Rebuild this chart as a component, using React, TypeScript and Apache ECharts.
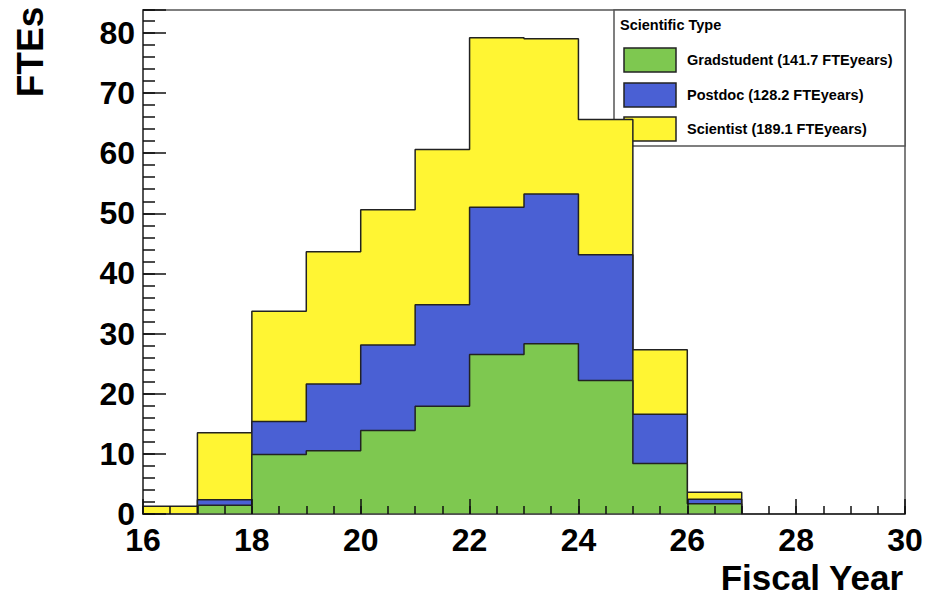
import React, { useEffect, useRef } from "react";
import * as echarts from "echarts";

// Histogram bins (fiscal year, width 1)
const binStarts = [16, 17, 18, 19, 20, 21, 22, 23, 24, 25, 26, 27, 28, 29];
const binEnd = 30;
const gradstudent = [0, 1.45, 9.9, 10.5, 13.9, 17.9, 26.5, 28.3, 22.2, 8.4, 1.7, 0, 0, 0];
const postdoc = [0, 0.9, 5.5, 11.1, 14.2, 16.9, 24.5, 24.9, 20.9, 8.2, 0.75, 0, 0, 0];
const scientist = [1.3, 11.15, 18.3, 22.0, 22.5, 25.8, 28.2, 25.8, 22.5, 10.7, 1.15, 0, 0, 0];
const seriesNames = ["Gradstudent", "Postdoc", "Scientist"];
const legendLabels = [
  "Gradstudent (141.7 FTEyears)",
  "Postdoc (128.2 FTEyears)",
  "Scientist (189.1 FTEyears)",
];
const legendTitle = "Scientific Type";
const xTitle = "Fiscal Year";
const yTitle = "FTEs";
const colors = ["#7ec850", "#4a60d4", "#fff533"];

const FONT = "'Liberation Sans', Arial, Helvetica, sans-serif";

function stepData(vals: number[]) {
  const pts = binStarts.map((x, i) => [x, vals[i]]);
  pts.push([binEnd, vals[vals.length - 1]]);
  return pts;
}

export default function App() {
  const ref = useRef<HTMLDivElement>(null);
  useEffect(() => {
    if (!ref.current) return;
    const chart = echarts.init(ref.current, undefined, { renderer: "svg" });

    const layer1 = gradstudent.map((v) => +v.toFixed(3));
    const layer2 = gradstudent.map((v, i) => +(v + postdoc[i]).toFixed(3));
    const layer3 = gradstudent.map((v, i) => +(v + postdoc[i] + scientist[i]).toFixed(3));
    const layers = [layer3, layer2, layer1];
    const layerColors = [colors[2], colors[1], colors[0]];
    const layerNames = [seriesNames[2], seriesNames[1], seriesNames[0]];

    const series = layers.map((vals, k) => ({
      type: "line",
      name: layerNames[k],
      step: "end",
      data: stepData(vals),
      xAxisIndex: 0,
      yAxisIndex: 0,
      showSymbol: false,
      symbol: "none",
      z: 2 + k,
      lineStyle: { color: "#222", width: 1.5 },
      itemStyle: { color: layerColors[k] },
      areaStyle: { color: layerColors[k], opacity: 1, origin: "start" },
      silent: true,
    }));

    const legendX = 614;
    const legendY = 10;
    const legendW = 291;
    const legendH = 136;
    const rowYs = [48, 83, 117];
    const legendChildren: any[] = [
      {
        type: "rect",
        shape: { x: legendX, y: legendY, width: legendW, height: legendH },
        style: { fill: "#fff", stroke: "#555", lineWidth: 1.5 },
      },
      {
        type: "text",
        x: 620,
        y: 25,
        style: {
          text: legendTitle,
          fontSize: 14.5,
          fontWeight: "bold",
          fontFamily: FONT,
          fill: "#000",
          align: "left",
          verticalAlign: "middle",
        },
      },
    ];
    legendLabels.forEach((lab, i) => {
      legendChildren.push({
        type: "rect",
        shape: { x: 624, y: rowYs[i], width: 52, height: 24 },
        style: { fill: colors[i], stroke: "#222", lineWidth: 1.5 },
      });
      legendChildren.push({
        type: "text",
        x: 687,
        y: rowYs[i] + 12,
        style: {
          text: lab,
          fontSize: 14.5,
          fontWeight: "bold",
          fontFamily: FONT,
          fill: "#000",
          align: "left",
          verticalAlign: "middle",
        },
      });
    });

    const tickLabel = {
      fontSize: 32,
      fontWeight: "bold",
      fontFamily: FONT,
      color: "#000",
    };

    chart.setOption({
      animation: false,
      backgroundColor: "#fff",
      grid: {
        left: 143,
        right: 31,
        top: 10,
        bottom: 83,
        show: true,
        borderColor: "#555",
        borderWidth: 1.5,
        backgroundColor: "#fff",
      },
      xAxis: [
        {
          type: "value",
          min: 16,
          max: 30,
          interval: 2,
          position: "bottom",
          z: 10,
          axisLine: { show: true, lineStyle: { color: "#444", width: 1.5 } },
          axisTick: { show: true, inside: true, length: 15, lineStyle: { color: "#111", width: 1.5 } },
          axisLabel: { ...tickLabel, margin: 10 },
          splitLine: { show: false },
        },
        {
          type: "value",
          min: 16,
          max: 30,
          interval: 0.5,
          position: "bottom",
          z: 10,
          axisLine: { show: false },
          axisTick: { show: true, inside: true, length: 8, lineStyle: { color: "#111", width: 1.5 } },
          axisLabel: { show: false },
          splitLine: { show: false },
        },
      ],
      yAxis: [
        {
          type: "value",
          min: 0,
          max: 83.8,
          interval: 10,
          position: "left",
          z: 10,
          axisLine: { show: true, lineStyle: { color: "#444", width: 1.5 } },
          axisTick: { show: true, inside: true, length: 23, lineStyle: { color: "#111", width: 1.5 } },
          axisLabel: {
            ...tickLabel,
            margin: 8,
            formatter: (v: number) => (Math.abs(v % 10) < 1e-6 ? String(v) : ""),
          },
          splitLine: { show: false },
        },
        {
          type: "value",
          min: 0,
          max: 83.8,
          interval: 2,
          position: "left",
          z: 10,
          axisLine: { show: false },
          axisTick: { show: true, inside: true, length: 12, lineStyle: { color: "#111", width: 1.5 } },
          axisLabel: { show: false },
          splitLine: { show: false },
        },
      ],
      series,
      graphic: [
        {
          type: "text",
          x: 30,
          y: 52,
          rotation: Math.PI / 2,
          z: 100,
          style: {
            text: yTitle,
            fontSize: 37,
            fontWeight: "bold",
            fontFamily: FONT,
            fill: "#000",
            align: "center",
            verticalAlign: "middle",
          },
        },
        {
          type: "text",
          x: 903,
          y: 577,
          z: 100,
          style: {
            text: xTitle,
            fontSize: 35,
            fontWeight: "bold",
            fontFamily: FONT,
            fill: "#000",
            align: "right",
            verticalAlign: "middle",
          },
        },
        {
          type: "group",
          z: 100,
          children: legendChildren,
        },
      ],
    });
    return () => chart.dispose();
  }, []);
  return (
    <div
      ref={ref}
      style={{ position: "fixed", left: 0, top: 0, width: 936, height: 597, background: "#fff" }}
    />
  );
}
